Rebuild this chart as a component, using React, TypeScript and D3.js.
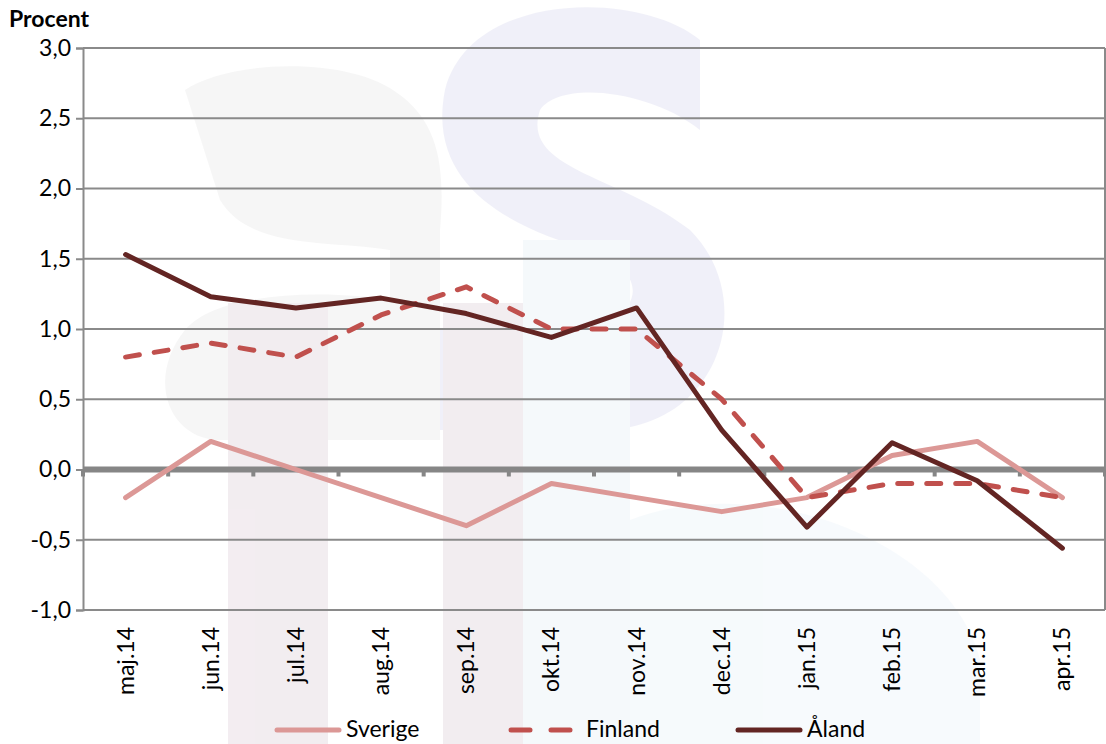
import React, { useEffect, useRef } from "react";
import * as d3 from "d3";

const months = [
  "maj.14", "jun.14", "jul.14", "aug.14", "sep.14", "okt.14",
  "nov.14", "dec.14", "jan.15", "feb.15", "mar.15", "apr.15",
];
const sverige = [-0.2, 0.2, 0.0, -0.2, -0.4, -0.1, -0.2, -0.3, -0.2, 0.1, 0.2, -0.2];
const finland = [0.8, 0.9, 0.8, 1.1, 1.3, 1.0, 1.0, 0.5, -0.2, -0.1, -0.1, -0.2];
const aland = [1.53, 1.23, 1.15, 1.22, 1.11, 0.94, 1.15, 0.28, -0.41, 0.19, -0.08, -0.56];
const yTicks = [-1.0, -0.5, 0.0, 0.5, 1.0, 1.5, 2.0, 2.5, 3.0];

const seriesList = [
  { name: "Sverige", values: sverige, color: "#DC9896", dash: "" },
  { name: "Finland", values: finland, color: "#C0504D", dash: "14 15" },
  { name: "Åland", values: aland, color: "#632523", dash: "" },
];

const font = "Lato, 'Open Sans', sans-serif";
const fontSize = "23px";

export default function App() {
  const svgRef = useRef<SVGSVGElement>(null);

  useEffect(() => {
    const width = 1106;
    const height = 744;
    const margin = { top: 48, right: 1, bottom: 134, left: 83 };
    const innerW = width - margin.left - margin.right;

    const svg = d3.select(svgRef.current).attr("width", width).attr("height", height);
    svg.selectAll("*").remove();

    // Faint background watermark (logo)
    const wm = svg.append("g").attr("opacity", 0.35);
    wm.append("path")
      .attr("d", "M700,40 C640,-10 470,-10 445,90 C425,190 520,230 590,250 C660,275 640,330 560,330 L420,330 L420,430 L600,430 C720,430 760,300 690,230 C620,175 520,170 540,110 C560,80 650,90 700,130 Z")
      .attr("fill", "#D6D6EE");
    wm.append("path")
      .attr("d", "M185,90 C230,60 350,55 400,95 C440,125 445,170 440,230 L440,440 L220,440 C170,440 145,380 185,330 C220,290 330,290 390,300 L390,250 C330,240 250,250 220,200 Z")
      .attr("fill", "#E6E6E6");
    wm.append("rect").attr("x", 228).attr("y", 303).attr("width", 100).attr("height", 441).attr("fill", "#DCCCD6");
    wm.append("rect").attr("x", 443).attr("y", 303).attr("width", 80).attr("height", 441).attr("fill", "#DCCCD6");
    wm.append("rect").attr("x", 523).attr("y", 240).attr("width", 107).attr("height", 504).attr("fill", "#E4EEF6");
    wm.append("path")
      .attr("d", "M630,520 C760,470 950,540 980,660 L980,744 L630,744 Z")
      .attr("fill", "#E8F2F8");

    const x = d3.scaleBand<string>().domain(months).range([margin.left, margin.left + innerW]);
    const y = d3.scaleLinear().domain([-1, 3]).range([610, 48]);

    const g = svg.append("g");

    // Horizontal gridlines
    g.selectAll("line.grid")
      .data(yTicks.filter((t) => t !== 0))
      .join("line")
      .attr("x1", margin.left)
      .attr("x2", margin.left + innerW)
      .attr("y1", (d) => y(d))
      .attr("y2", (d) => y(d))
      .attr("stroke", "#8A8A8A")
      .attr("stroke-width", 2);

    // Right border
    g.append("line")
      .attr("x1", margin.left + innerW).attr("x2", margin.left + innerW)
      .attr("y1", y(3)).attr("y2", y(-1))
      .attr("stroke", "#8A8A8A").attr("stroke-width", 2);

    // Y axis
    const yAxis = g.append("g")
      .attr("transform", `translate(${margin.left},0)`)
      .call(
        d3.axisLeft(y)
          .tickValues(yTicks)
          .tickSize(7)
          .tickPadding(5)
          .tickFormat((d) => d3.format(".1f")(d as number).replace(".", ",").replace("−", "-"))
      );
    yAxis.select(".domain").attr("stroke", "#8A8A8A").attr("stroke-width", 2);
    yAxis.selectAll(".tick line").attr("stroke", "#8A8A8A").attr("stroke-width", 2);
    yAxis.selectAll(".tick text")
      .attr("fill", "#000")
      .style("font-family", font)
      .style("font-size", fontSize);

    // Zero line with ticks at category boundaries
    g.append("line")
      .attr("x1", margin.left).attr("x2", margin.left + innerW)
      .attr("y1", y(0)).attr("y2", y(0))
      .attr("stroke", "#868686").attr("stroke-width", 6);
    g.selectAll("line.zt")
      .data(months.concat(["end"]))
      .join("line")
      .attr("x1", (d, i) => margin.left + i * x.bandwidth())
      .attr("x2", (d, i) => margin.left + i * x.bandwidth())
      .attr("y1", y(0))
      .attr("y2", y(0) + 7)
      .attr("stroke", "#868686")
      .attr("stroke-width", 4);

    // X labels
    g.selectAll("text.xl")
      .data(months)
      .join("text")
      .attr("transform", (d) => `translate(${x(d)! + x.bandwidth() / 2 + 8},${627}) rotate(-90)`)
      .attr("text-anchor", "end")
      .style("font-family", font)
      .style("font-size", fontSize)
      .attr("fill", "#000")
      .text((d) => d);

    // Lines
    const line = d3.line<number>()
      .x((d, i) => x(months[i])! + x.bandwidth() / 2)
      .y((d) => y(d));
    seriesList.forEach((s) => {
      g.append("path")
        .datum(s.values)
        .attr("fill", "none")
        .attr("stroke", s.color)
        .attr("stroke-width", 5)
        .attr("stroke-linejoin", "round")
        .attr("stroke-linecap", "round")
        .attr("stroke-dasharray", s.dash || null)
        .attr("d", line);
    });

    // Procent label
    svg.append("text")
      .attr("x", 9).attr("y", 27)
      .style("font-family", font)
      .style("font-size", fontSize)
      .style("font-weight", "bold")
      .attr("fill", "#000")
      .text("Procent");

    // Legend
    const legendX = [275, 509, 736];
    seriesList.forEach((s, i) => {
      const lg = svg.append("g").attr("transform", `translate(${legendX[i]},730)`);
      lg.append("line")
        .attr("x1", 2).attr("x2", 64)
        .attr("y1", 0).attr("y2", 0)
        .attr("stroke", s.color)
        .attr("stroke-width", 5)
        .attr("stroke-linecap", "round")
        .attr("stroke-dasharray", s.dash ? "19 21" : null);
      lg.append("text")
        .attr("x", i === 1 ? 77 : 71).attr("y", 7)
        .style("font-family", font)
        .style("font-size", fontSize)
        .attr("fill", "#000")
        .text(s.name);
    });
  }, []);

  return (
    <svg
      ref={svgRef}
      style={{ position: "absolute", left: 0, top: 0, display: "block", background: "#fff" }}
    />
  );
}
